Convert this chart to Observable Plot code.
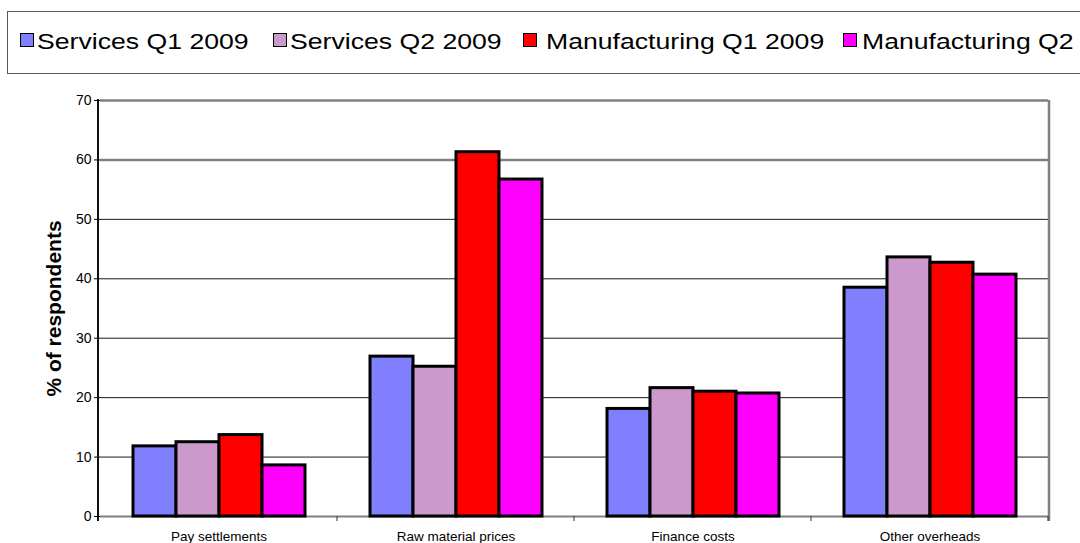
<!DOCTYPE html>
<html>
<head>
<meta charset="utf-8">
<script src="https://cdn.jsdelivr.net/npm/d3@7"></script>
<script src="https://cdn.jsdelivr.net/npm/@observablehq/plot@0.6"></script>
<style>
  html, body { margin: 0; padding: 0; background: #fff; overflow: hidden; }
  #wrap { position: relative; width: 1080px; height: 543px; overflow: hidden;
          font-family: "Liberation Sans", Arial, sans-serif; }
  #chart { position: absolute; left: 0; top: 0; }
  #legend { position: absolute; left: 7px; top: 11px; width: 1200px; height: 63px;
            border: 1px solid #5a5a5a; box-sizing: border-box; background: #fff; }
  .sw { position: absolute; width: 14px; height: 14px; border: 1.5px solid #000; box-sizing: border-box; }
  .lt { position: absolute; font-size: 22px; line-height: 22px; color: #000; white-space: nowrap;
        transform: scaleX(1.21); transform-origin: 0 50%; }
</style>
</head>
<body>
<div id="wrap">
  <div id="chart"></div>
  <div id="legend"></div>
</div>
<script>
// ---- data ----
const categories = ["Pay settlements", "Raw material prices", "Finance costs", "Other overheads"];
const series = ["Services Q1 2009", "Services Q2 2009", "Manufacturing Q1 2009", "Manufacturing Q2 2009"];
const servicesQ1 = [11.8, 26.9, 18.1, 38.5];
const servicesQ2 = [12.5, 25.2, 21.6, 43.6];
const manufacturingQ1 = [13.7, 61.3, 21.0, 42.7];
const manufacturingQ2 = [8.6, 56.7, 20.7, 40.7];
const colors = ["#8080ff", "#cc99cc", "#ff0000", "#ff00ff"];
const yTicks = [0, 10, 20, 30, 40, 50, 60, 70];
const yLabel = "% of respondents";

// layout (styles, not data): legend swatch / text offsets inside the legend box
const legendSwatchLeft = [12, 265, 515, 835];
const legendTextLeft = [29, 282, 538, 854];

const seriesValues = [servicesQ1, servicesQ2, manufacturingQ1, manufacturingQ2];
const rows = categories.flatMap((c, i) =>
  series.map((s, j) => ({category: c, series: s, value: seriesValues[j][i]})));

const chart = Plot.plot({
  width: 1080,
  height: 543,
  marginTop: 100,
  marginBottom: 27,
  marginLeft: 98,
  marginRight: 31,
  style: {fontFamily: "'Liberation Sans', Arial, sans-serif", background: "transparent", color: "#000"},
  fx: {domain: categories, padding: 0, label: null},
  x: {domain: series, paddingInner: 0, paddingOuter: 0.75, axis: null},
  y: {domain: [0, 70], label: null},
  color: {domain: series, range: colors},
  marks: [
    Plot.ruleY([10, 20, 30, 40, 50], {stroke: "#1a1a1a", strokeWidth: 1}),
    Plot.ruleY([60, 70], {stroke: "#808080", strokeWidth: 2.5}),
    Plot.ruleY([0], {stroke: "#808080", strokeWidth: 2}),
    Plot.barY(rows, {fx: "category", x: "series", y: "value", fill: "series",
                     stroke: "#000", strokeWidth: 3}),
    Plot.axisY({ticks: yTicks, tickSize: 6, tickPadding: 3, fontSize: 14, label: null,
                tickFormat: d => String(d)}),
    Plot.axisFx({anchor: "bottom", tickSize: 0, tickPadding: 15, fontSize: 13.5, label: null}),
    Plot.text([yLabel], {fx: () => categories[0], text: d => d, frameAnchor: "left",
                         rotate: -90, dx: -46, fontSize: 21, fontWeight: "bold",
                         textAnchor: "middle", lineAnchor: "middle", fill: "#000"})
  ]
});

document.getElementById("chart").appendChild(chart);

// frame lines and category boundary ticks from the chart's own scales
const fxS = chart.scale("fx");
const yS = chart.scale("y");
const [yBottom, yTop] = yS.range;
const [xLeft, xRight] = fxS.range;
const svg = d3.select(chart);
const g = svg.append("g");
g.append("line").attr("x1", xRight).attr("x2", xRight).attr("y1", yTop).attr("y2", yBottom + 5)
  .attr("stroke", "#808080").attr("stroke-width", 2.5);
categories.forEach(c => {
  const xb = fxS.apply(c) + fxS.bandwidth;
  g.append("line").attr("x1", xb).attr("x2", xb).attr("y1", yBottom).attr("y2", yBottom + 5)
    .attr("stroke", "#333").attr("stroke-width", 1);
});
g.append("line").attr("x1", xLeft).attr("x2", xLeft).attr("y1", yTop - 1).attr("y2", yBottom + 5)
  .attr("stroke", "#111").attr("stroke-width", 2);

// legend from the chart's color scale
const colorS = chart.scale("color");
const legend = document.getElementById("legend");
colorS.domain.forEach((name, i) => {
  const sw = document.createElement("div");
  sw.className = "sw";
  sw.style.left = legendSwatchLeft[i] + "px";
  sw.style.top = "21px";
  sw.style.background = colorS.range[i];
  legend.appendChild(sw);
  const t = document.createElement("div");
  t.className = "lt";
  t.textContent = name;
  t.style.left = legendTextLeft[i] + "px";
  t.style.top = "19px";
  legend.appendChild(t);
});
</script>
</body>
</html>
